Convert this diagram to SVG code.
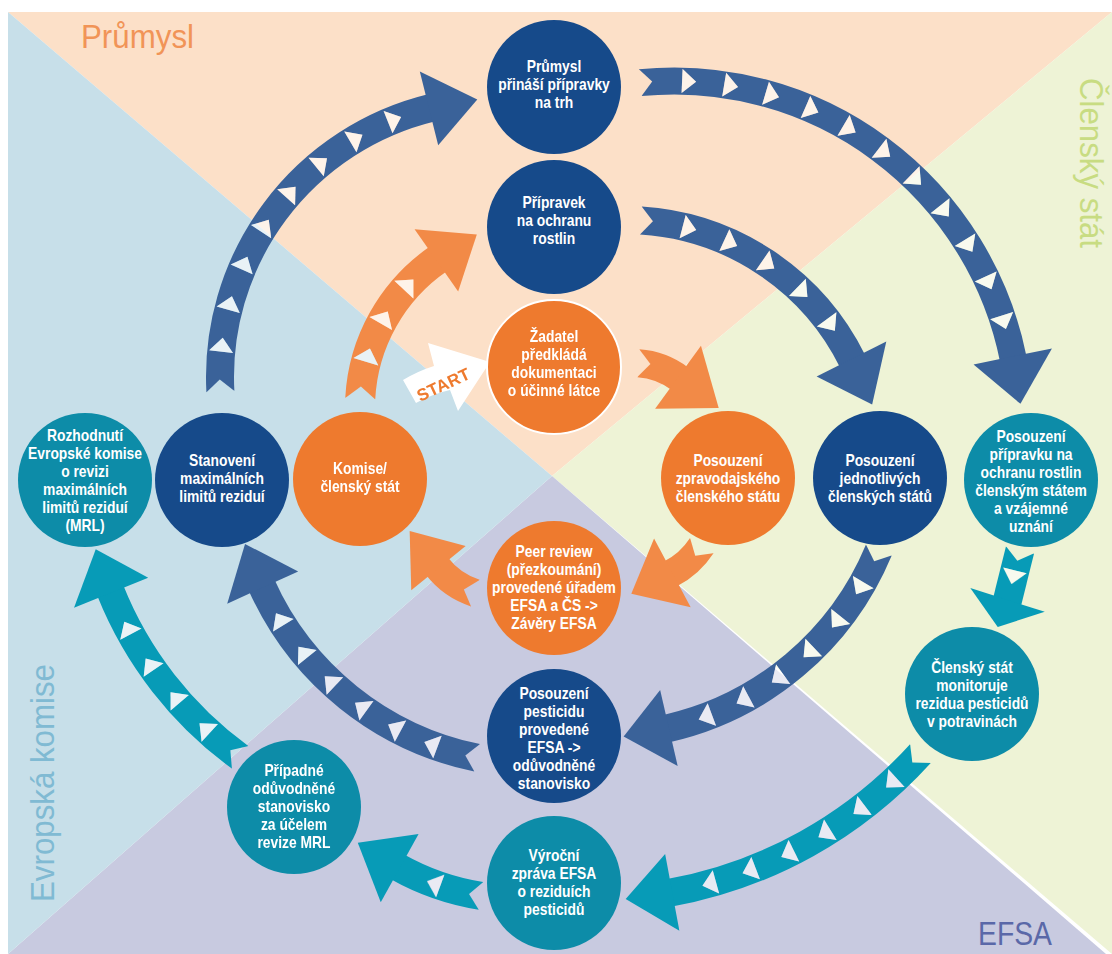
<svg xmlns="http://www.w3.org/2000/svg" width="1112" height="954" viewBox="0 0 1112 954">
<style>
.nt{font-family:'Liberation Sans',Arial,sans-serif;font-weight:bold;font-size:16.5px;fill:#fff;text-anchor:middle}
.ql{font-family:'Liberation Sans',Arial,sans-serif;font-size:33px}
.band{fill:none}
.b{fill:#3A6299}.bs{stroke:#3A6299}
.o{fill:#F28A47}.os{stroke:#F28A47}
.t{fill:#079BB7}.ts{stroke:#079BB7}
.nb{fill:#164A8A}.no{fill:#EE7A2E}.ntl{fill:#0D8CA8}
</style>
<defs>
<g id="tr1" transform="translate(497,377)">
<polygon transform="rotate(186.7)" points="265,-7 289,-7 277,7"/><polygon transform="rotate(195.5)" points="265,-7 289,-7 277,7"/><polygon transform="rotate(204.3)" points="265,-7 289,-7 277,7"/><polygon transform="rotate(213.1)" points="265,-7 289,-7 277,7"/><polygon transform="rotate(221.9)" points="265,-7 289,-7 277,7"/><polygon transform="rotate(230.7)" points="265,-7 289,-7 277,7"/><polygon transform="rotate(239.5)" points="265,-7 289,-7 277,7"/><polygon transform="rotate(248.3)" points="265,-7 289,-7 277,7"/>
</g>
<g id="tr2" transform="translate(541,408)">
<polygon transform="rotate(197)" points="168,-7 194,-7 181,7"/><polygon transform="rotate(210)" points="168,-7 194,-7 181,7"/><polygon transform="rotate(223)" points="168,-7 194,-7 181,7"/>
</g>
<g id="tr3" transform="translate(674,427)">
<polygon transform="rotate(-87.5)" points="334,-7 358,-7 346,7"/><polygon transform="rotate(-80.5)" points="334,-7 358,-7 346,7"/><polygon transform="rotate(-73.5)" points="334,-7 358,-7 346,7"/><polygon transform="rotate(-66.5)" points="334,-7 358,-7 346,7"/><polygon transform="rotate(-59.5)" points="334,-7 358,-7 346,7"/><polygon transform="rotate(-52.5)" points="334,-7 358,-7 346,7"/><polygon transform="rotate(-45.6)" points="334,-7 358,-7 346,7"/><polygon transform="rotate(-38.6)" points="334,-7 358,-7 346,7"/><polygon transform="rotate(-31.6)" points="334,-7 358,-7 346,7"/><polygon transform="rotate(-24.6)" points="334,-7 358,-7 346,7"/><polygon transform="rotate(-17.6)" points="334,-7 358,-7 346,7"/>
</g>
<g id="tr4" transform="translate(625,474)">
<polygon transform="rotate(-75.3)" points="242,-7 266,-7 254,7"/><polygon transform="rotate(-65.4)" points="242,-7 266,-7 254,7"/><polygon transform="rotate(-55.6)" points="242,-7 266,-7 254,7"/><polygon transform="rotate(-45.7)" points="242,-7 266,-7 254,7"/><polygon transform="rotate(-35.9)" points="242,-7 266,-7 254,7"/>
</g>
<g id="tr8" transform="translate(464,449)">
<polygon transform="rotate(132.9)" points="369,-7 393,-7 381,7"/><polygon transform="rotate(139.3)" points="369,-7 393,-7 381,7"/><polygon transform="rotate(145.6)" points="369,-7 393,-7 381,7"/><polygon transform="rotate(152)" points="369,-7 393,-7 381,7"/>
</g>
<g id="tr9" transform="translate(538,461)">
<polygon transform="rotate(110.7)" points="291,-7 315,-7 303,7"/><polygon transform="rotate(118.3)" points="291,-7 315,-7 303,7"/><polygon transform="rotate(125.8)" points="291,-7 315,-7 303,7"/><polygon transform="rotate(133.4)" points="291,-7 315,-7 303,7"/><polygon transform="rotate(140.9)" points="291,-7 315,-7 303,7"/><polygon transform="rotate(148.5)" points="291,-7 315,-7 303,7"/>
</g>
<g id="tr10" transform="translate(600,434)">
<polygon transform="rotate(30.7)" points="290,-7 314,-7 302,7"/><polygon transform="rotate(38.5)" points="290,-7 314,-7 302,7"/><polygon transform="rotate(46.3)" points="290,-7 314,-7 302,7"/><polygon transform="rotate(54)" points="290,-7 314,-7 302,7"/><polygon transform="rotate(61.8)" points="290,-7 314,-7 302,7"/><polygon transform="rotate(69.6)" points="290,-7 314,-7 302,7"/>
</g>
<g id="tr12" transform="translate(590,454)">
<polygon transform="rotate(47.5)" points="434,-7 458,-7 446,7"/><polygon transform="rotate(52.9)" points="434,-7 458,-7 446,7"/><polygon transform="rotate(58.3)" points="434,-7 458,-7 446,7"/><polygon transform="rotate(63.7)" points="434,-7 458,-7 446,7"/><polygon transform="rotate(69.1)" points="434,-7 458,-7 446,7"/><polygon transform="rotate(74.5)" points="434,-7 458,-7 446,7"/>
</g>
<g id="tr13" transform="translate(520,649)"><polygon transform="rotate(110.2)" points="238,-7 262,-7 250,7"/></g>
<g id="tr11" transform="translate(1020,550) rotate(104)"><polygon points="21,-12 21,12 35,0"/></g>
<mask id="cut" maskUnits="userSpaceOnUse" x="0" y="0" width="1112" height="954">
<rect width="1112" height="954" fill="#fff"/>
<g fill="#000">
<polygon transform="translate(497,377) rotate(177)" points="262,-1 277,12 292,-1"/>
<polygon transform="translate(541,408) rotate(183)" points="165,-1 181,12 197,-1"/>
<polygon transform="translate(674,427) rotate(-95.6)" points="331.5,-1 346,12 360.5,-1"/>
<polygon transform="translate(625,474) rotate(-86.4)" points="239,-1 254,12 269,-1"/>
<polygon transform="translate(633,441) rotate(-86)" points="63,-1 78,12 93,-1"/>
<polygon transform="translate(633,501) rotate(33)" points="67,-1 82,12 97,-1"/>
<polygon transform="translate(500,517) rotate(108)" points="65,-1 80,12 95,-1"/>
<polygon transform="translate(464,449) rotate(126)" points="366,-1 381,12 396,-1"/>
<polygon transform="translate(538,461) rotate(101.6)" points="288,-1 303,12 318,-1"/>
<polygon transform="translate(600,434) rotate(22.6)" points="287,-1 302,12 317,-1"/>
<polygon transform="translate(590,454) rotate(42.2)" points="431,-1 446,12 461,-1"/>
<polygon transform="translate(520,649) rotate(99)" points="235,-1 250,12 265,-1"/>
<polygon transform="translate(1020,550) rotate(104)" points="-1,-15.5 11,0 -1,15.5"/>
<use href="#tr1"/><use href="#tr2"/><use href="#tr3"/><use href="#tr4"/><use href="#tr8"/><use href="#tr9"/><use href="#tr10"/><use href="#tr12"/><use href="#tr13"/><use href="#tr11"/>
</g>
</mask>
</defs>
<rect width="1112" height="954" fill="#fff"/>
<g id="background">
<polygon points="8,12 1112,12 552,476" fill="#FCE0C8"/>
<polygon points="1112,12 1112,954 552,476" fill="#EEF3D6"/>
<polygon points="1106,954 8,954 552,476" fill="#C8CAE0"/>
<polygon points="8,954 8,12 552,476" fill="#C7DFE9"/>
</g>
<g id="quadrant-labels">
<text class="ql" x="81" y="48" fill="#F19457" textLength="113" lengthAdjust="spacingAndGlyphs">Průmysl</text>
<text class="ql" transform="translate(1080,78) rotate(90)" x="0" y="0" fill="#C8DC82" textLength="170" lengthAdjust="spacingAndGlyphs">Členský stát</text>
<text class="ql" transform="translate(54,902) rotate(-90)" x="0" y="0" fill="#80BAD3" textLength="238" lengthAdjust="spacingAndGlyphs">Evropská komise</text>
<text class="ql" x="978" y="945" fill="#5A68A8" font-size="32" textLength="74" lengthAdjust="spacingAndGlyphs">EFSA</text>
</g>
<g id="connectors">
<g mask="url(#cut)">
<g id="a1" transform="translate(497,377)"><circle class="band bs" r="277" stroke-width="28" stroke-dasharray="383 3000" transform="rotate(177)"/><polygon class="b" transform="rotate(256)" points="239,-1 315,-1 274,48"/></g>
<g id="a2" transform="translate(541,408)"><circle class="band os" r="181" stroke-width="30" stroke-dasharray="166 3000" transform="rotate(183)"/><polygon class="o" transform="rotate(235)" points="143,-1 219,-1 179,47"/></g>
<g id="a3" transform="translate(674,427)"><circle class="band bs" r="346" stroke-width="27" stroke-dasharray="509 3000" transform="rotate(-95.6)"/><polygon class="b" transform="rotate(-11.6)" points="306,-1 386,-1 344,47"/></g>
<g id="a4" transform="translate(625,474)"><circle class="band bs" r="254" stroke-width="28" stroke-dasharray="266 3000" transform="rotate(-86.4)"/><polygon class="b" transform="rotate(-26.7)" points="215,-1 293,-1 252,49"/></g>
<g id="a5" transform="translate(633,441)"><circle class="band os" r="78" stroke-width="28" stroke-dasharray="45 3000" transform="rotate(-86)"/><polygon class="o" transform="rotate(-54)" points="39,-1 117,-1 77,50"/></g>
<g id="a6" transform="translate(633,501)"><circle class="band os" r="82" stroke-width="28" stroke-dasharray="43 3000" transform="rotate(33)"/><polygon class="o" transform="rotate(62)" points="43,-1 121,-1 81,45"/></g>
<g id="a7" transform="translate(500,517)"><circle class="band os" r="80" stroke-width="28" stroke-dasharray="48 3000" transform="rotate(108)"/><polygon class="o" transform="rotate(141)" points="45,-1 115,-1 79,46"/></g>
<g id="a8" transform="translate(464,449)"><circle class="band ts" r="381" stroke-width="28" stroke-dasharray="214 3000" transform="rotate(126)"/><polygon class="t" transform="rotate(158)" points="341,-1 421,-1 379,45"/></g>
<g id="a9" transform="translate(538,461)"><circle class="band bs" r="303" stroke-width="28" stroke-dasharray="287 3000" transform="rotate(101.6)"/><polygon class="b" transform="rotate(155.5)" points="264,-1 342,-1 301,46"/></g>
<g id="a10" transform="translate(600,434)"><circle class="band bs" r="302" stroke-width="28" stroke-dasharray="288 3000" transform="rotate(22.6)"/><polygon class="b" transform="rotate(77)" points="263,-1 341,-1 300,45"/></g>
<g id="a11" transform="translate(1020,550) rotate(104)"><polygon class="t" points="0,-14.5 53,-14.5 53,14.5 0,14.5"/><polygon class="t" points="54,-39 80,3 49,39"/></g>
<g id="a12" transform="translate(590,454)"><circle class="band ts" r="446" stroke-width="28" stroke-dasharray="292 3000" transform="rotate(42.2)"/><polygon class="t" transform="rotate(79.5)" points="407,-1 485,-1 444,46"/></g>
<g id="a13" transform="translate(520,649)"><circle class="band ts" r="250" stroke-width="28" stroke-dasharray="89 3000" transform="rotate(99)"/><polygon class="t" transform="rotate(119)" points="211,-1 289,-1 248,48"/></g>
</g>
<g fill="#fff" opacity="0.6">
<use href="#tr1"/><use href="#tr2"/><use href="#tr3"/><use href="#tr4"/><use href="#tr8"/><use href="#tr9"/><use href="#tr10"/><use href="#tr12"/><use href="#tr13"/><use href="#tr11"/>
</g>
<g id="start">
<path d="M403,380 Q418,371 434,366 L428,343 L490,362 L458,411 L450,390 Q432,394 416,403 Z" fill="#fff"/>
<text transform="translate(446,390) rotate(-25)" x="0" y="0" text-anchor="middle" font-family="'Liberation Sans',Arial,sans-serif" font-weight="bold" font-size="17" letter-spacing="0.3" fill="#EE7A2E">START</text>
</g>
</g>
<g id="nodes">
<g id="n-prumysl" transform="translate(554,87)"><circle r="67" class="nb"/><text class="nt" transform="scale(0.84,1)"><tspan x="0" y="-15">Průmysl</tspan><tspan x="0" y="3">přináší přípravky</tspan><tspan x="0" y="21">na trh</tspan></text></g>
<g id="n-pripravek" transform="translate(554,227)"><circle r="67" class="nb"/><text class="nt" transform="scale(0.84,1)"><tspan x="0" y="-19">Přípravek</tspan><tspan x="0" y="-1">na ochranu</tspan><tspan x="0" y="17">rostlin</tspan></text></g>
<g id="n-zadatel" transform="translate(554,367)"><circle r="67" class="no" stroke="#fff" stroke-width="2"/><text class="nt" transform="scale(0.84,1)"><tspan x="0" y="-25">Žadatel</tspan><tspan x="0" y="-7">předkládá</tspan><tspan x="0" y="11">dokumentaci</tspan><tspan x="0" y="29">o účinné látce</tspan></text></g>
<g id="n-rozhodnuti" transform="translate(85,480)"><circle r="67" class="ntl"/><text class="nt" transform="scale(0.84,1)"><tspan x="0" y="-39">Rozhodnutí</tspan><tspan x="0" y="-21">Evropské komise</tspan><tspan x="0" y="-3">o revizi</tspan><tspan x="0" y="15">maximálních</tspan><tspan x="0" y="33">limitů reziduí</tspan><tspan x="0" y="51">(MRL)</tspan></text></g>
<g id="n-stanoveni" transform="translate(222,480)"><circle r="67" class="nb"/><text class="nt" transform="scale(0.84,1)"><tspan x="0" y="-14">Stanovení</tspan><tspan x="0" y="4">maximálních</tspan><tspan x="0" y="22">limitů reziduí</tspan></text></g>
<g id="n-komise" transform="translate(360,479)"><circle r="67" class="no"/><text class="nt" transform="scale(0.84,1)"><tspan x="0" y="-5">Komise/</tspan><tspan x="0" y="13">členský stát</tspan></text></g>
<g id="n-zpravodajsky" transform="translate(728,478)"><circle r="67" class="no"/><text class="nt" transform="scale(0.84,1)"><tspan x="0" y="-12">Posouzení</tspan><tspan x="0" y="6">zpravodajského</tspan><tspan x="0" y="24">členského státu</tspan></text></g>
<g id="n-jednotlive" transform="translate(880,478)"><circle r="67" class="nb"/><text class="nt" transform="scale(0.84,1)"><tspan x="0" y="-12">Posouzení</tspan><tspan x="0" y="6">jednotlivých</tspan><tspan x="0" y="24">členských států</tspan></text></g>
<g id="n-pripravku" transform="translate(1031,480)"><circle r="67" class="ntl"/><text class="nt" transform="scale(0.84,1)"><tspan x="0" y="-38">Posouzení</tspan><tspan x="0" y="-20">přípravku na</tspan><tspan x="0" y="-2">ochranu rostlin</tspan><tspan x="0" y="16">členským státem</tspan><tspan x="0" y="34">a vzájemné</tspan><tspan x="0" y="52">uznání</tspan></text></g>
<g id="n-peer" transform="translate(554,588)"><circle r="67" class="no"/><text class="nt" transform="scale(0.84,1)"><tspan x="0" y="-31">Peer review</tspan><tspan x="0" y="-13">(přezkoumání)</tspan><tspan x="0" y="5">provedené úřadem</tspan><tspan x="0" y="23">EFSA a ČS -&gt;</tspan><tspan x="0" y="41">Závěry EFSA</tspan></text></g>
<g id="n-pesticid" transform="translate(554,736)"><circle r="67" class="nb"/><text class="nt" transform="scale(0.84,1)"><tspan x="0" y="-37">Posouzení</tspan><tspan x="0" y="-19">pesticidu</tspan><tspan x="0" y="-1">provedené</tspan><tspan x="0" y="17">EFSA -&gt;</tspan><tspan x="0" y="35">odůvodněné</tspan><tspan x="0" y="53">stanovisko</tspan></text></g>
<g id="n-vyrocni" transform="translate(554,883)"><circle r="67" class="ntl"/><text class="nt" transform="scale(0.84,1)"><tspan x="0" y="-22">Výroční</tspan><tspan x="0" y="-4">zpráva EFSA</tspan><tspan x="0" y="14">o reziduích</tspan><tspan x="0" y="32">pesticidů</tspan></text></g>
<g id="n-pripadne" transform="translate(294,807)"><circle r="67" class="ntl"/><text class="nt" transform="scale(0.84,1)"><tspan x="0" y="-31">Případné</tspan><tspan x="0" y="-13">odůvodněné</tspan><tspan x="0" y="5">stanovisko</tspan><tspan x="0" y="23">za účelem</tspan><tspan x="0" y="41">revize MRL</tspan></text></g>
<g id="n-monitoruje" transform="translate(972,694)"><circle r="67" class="ntl"/><text class="nt" transform="scale(0.84,1)"><tspan x="0" y="-21">Členský stát</tspan><tspan x="0" y="-3">monitoruje</tspan><tspan x="0" y="15">rezidua pesticidů</tspan><tspan x="0" y="33">v potravinách</tspan></text></g>
</g>
</svg>
